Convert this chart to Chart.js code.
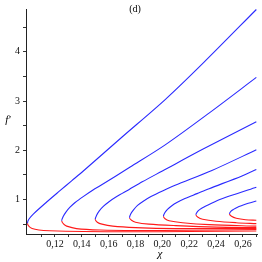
<!DOCTYPE html>
<html>
<head>
<meta charset="utf-8">
<script src="https://cdn.jsdelivr.net/npm/chart.js@4"></script>
<style>
  html, body { margin: 0; padding: 0; background: #fff; }
  #wrap { width: 262px; height: 262px; }
</style>
</head>
<body>
<div id="wrap"><canvas id="chart" width="262" height="262"></canvas></div>
<script>
// upper branches (blue), nose first
const blue1 = [
    {x: 0.0995, y: 0.52}, {x: 0.1005, y: 0.60}, {x: 0.104, y: 0.71}, {x: 0.1138, y: 0.95},
    {x: 0.1237, y: 1.18}, {x: 0.1324, y: 1.38}, {x: 0.1411, y: 1.58}, {x: 0.17, y: 2.27},
    {x: 0.2021, y: 3.03}, {x: 0.2307, y: 3.78}, {x: 0.27, y: 4.86},
];
const blue2 = [
    {x: 0.125, y: 0.57}, {x: 0.126, y: 0.65}, {x: 0.128, y: 0.74}, {x: 0.131, y: 0.84},
    {x: 0.135, y: 0.94}, {x: 0.141, y: 1.06}, {x: 0.1486, y: 1.20}, {x: 0.1536, y: 1.28},
    {x: 0.176, y: 1.66}, {x: 0.2021, y: 2.11}, {x: 0.235, y: 2.76}, {x: 0.27, y: 3.48},
];
const blue3 = [
    {x: 0.15, y: 0.60}, {x: 0.151, y: 0.68}, {x: 0.153, y: 0.77}, {x: 0.156, y: 0.86},
    {x: 0.16, y: 0.95}, {x: 0.166, y: 1.06}, {x: 0.175, y: 1.20}, {x: 0.185, y: 1.36},
    {x: 0.20, y: 1.58}, {x: 0.23, y: 2.02}, {x: 0.27, y: 2.58},
];
const blue4 = [
    {x: 0.1755, y: 0.63}, {x: 0.1765, y: 0.71}, {x: 0.1785, y: 0.79}, {x: 0.1815, y: 0.88},
    {x: 0.1855, y: 0.96}, {x: 0.1915, y: 1.06}, {x: 0.2005, y: 1.18}, {x: 0.2095, y: 1.29},
    {x: 0.2369, y: 1.59}, {x: 0.27, y: 2.01},
];
const blue5 = [
    {x: 0.2008, y: 0.66}, {x: 0.2018, y: 0.73}, {x: 0.2038, y: 0.80}, {x: 0.2068, y: 0.87},
    {x: 0.2108, y: 0.94}, {x: 0.2168, y: 1.02}, {x: 0.2258, y: 1.12}, {x: 0.2348, y: 1.22},
    {x: 0.2593, y: 1.48}, {x: 0.27, y: 1.61},
];
const blue6 = [
    {x: 0.225, y: 0.69}, {x: 0.226, y: 0.75}, {x: 0.228, y: 0.80}, {x: 0.231, y: 0.85},
    {x: 0.2344, y: 0.895}, {x: 0.241, y: 0.98}, {x: 0.25, y: 1.07}, {x: 0.27, y: 1.25},
];
const blue7 = [
    {x: 0.25, y: 0.71}, {x: 0.251, y: 0.76}, {x: 0.253, y: 0.80}, {x: 0.256, y: 0.845},
    {x: 0.2593, y: 0.88}, {x: 0.264, y: 0.925}, {x: 0.27, y: 0.97},
];

// lower branches (red), nose first
const red1 = [
    {x: 0.0995, y: 0.52}, {x: 0.1005, y: 0.46}, {x: 0.103, y: 0.41}, {x: 0.108, y: 0.38},
    {x: 0.116, y: 0.365}, {x: 0.141, y: 0.35}, {x: 0.176, y: 0.345}, {x: 0.22, y: 0.35},
    {x: 0.27, y: 0.36},
];
const red2 = [
    {x: 0.125, y: 0.57}, {x: 0.1265, y: 0.50}, {x: 0.1287, y: 0.46}, {x: 0.136, y: 0.41},
    {x: 0.1536, y: 0.38}, {x: 0.18, y: 0.37}, {x: 0.22, y: 0.375}, {x: 0.27, y: 0.39},
];
const red3 = [
    {x: 0.15, y: 0.60}, {x: 0.1515, y: 0.54}, {x: 0.155, y: 0.50}, {x: 0.163, y: 0.46},
    {x: 0.18, y: 0.43}, {x: 0.21, y: 0.41}, {x: 0.27, y: 0.41},
];
const red4 = [
    {x: 0.1755, y: 0.63}, {x: 0.177, y: 0.58}, {x: 0.18, y: 0.54}, {x: 0.19, y: 0.50},
    {x: 0.21, y: 0.47}, {x: 0.24, y: 0.44}, {x: 0.27, y: 0.43},
];
const red5 = [
    {x: 0.2008, y: 0.66}, {x: 0.202, y: 0.61}, {x: 0.205, y: 0.57}, {x: 0.215, y: 0.53},
    {x: 0.235, y: 0.49}, {x: 0.27, y: 0.46},
];
const red6 = [
    {x: 0.225, y: 0.69}, {x: 0.2265, y: 0.64}, {x: 0.23, y: 0.60}, {x: 0.24, y: 0.56},
    {x: 0.255, y: 0.53}, {x: 0.27, y: 0.51},
];
const red7 = [
    {x: 0.25, y: 0.71}, {x: 0.2515, y: 0.66}, {x: 0.255, y: 0.62}, {x: 0.262, y: 0.59},
    {x: 0.27, y: 0.58},
];

const xTickValues = [0.11, 0.12, 0.13, 0.14, 0.15, 0.16, 0.17, 0.18, 0.19, 0.20, 0.21, 0.22, 0.23, 0.24, 0.25, 0.26, 0.27];
const xTickLabels = ['', '0,12', '', '0,14', '', '0,16', '', '0,18', '', '0,20', '', '0,22', '', '0,24', '', '0,26', ''];
const yTickValues = [0.5, 1, 1.5, 2, 2.5, 3, 3.5, 4, 4.5];
const yTickLabels = ['', '1', '', '2', '', '3', '', '4', ''];

const blues = [blue1, blue2, blue3, blue4, blue5, blue6, blue7];
const reds = [red1, red2, red3, red4, red5, red6, red7];

const RED = '#ff1a1a';
const BLUE = '#2a2aff';

// one line per curve: red branch walked back to the nose, then the blue branch
const datasets = blues.map((blue, k) => {
    const red = reds[k];
    const nose = red.length - 1;
    return {
        data: red.slice().reverse().concat(blue.slice(1)),
        showLine: true,
        pointRadius: 0,
        borderWidth: 1.1,
        borderColor: BLUE,
        tension: 0.3,
        fill: false,
        segment: {
            borderColor: c => c.p0DataIndex < nose ? RED : BLUE,
        },
    };
});

const textPlugin = {
    id: 'texts',
    afterDraw(chart) {
        const ctx = chart.ctx;
        ctx.save();
        ctx.fillStyle = '#000';
        ctx.textAlign = 'center';
        ctx.textBaseline = 'middle';
        ctx.font = '10px "Liberation Serif"';
        ctx.fillText('(d)', 135, 9);
        ctx.font = 'italic 11px "Liberation Serif"';
        ctx.fillText('χ', 160, 254);
        ctx.fillText('f\'', 8, 120);
        ctx.restore();
    }
};

new Chart('chart', {
    type: 'scatter',
    data: {datasets: datasets},
    options: {
        responsive: false,
        animation: false,
        layout: {padding: {top: 6, right: 5, left: 0, bottom: 0}},
        plugins: {legend: {display: false}, tooltip: {enabled: false}},
        scales: {
            x: {
                type: 'linear',
                min: 0.0984,
                max: 0.2705,
                afterBuildTicks: s => { s.ticks = xTickValues.map(v => ({value: v})); },
                afterFit: s => { s.height = 28; },
                grid: {drawOnChartArea: false, drawTicks: true, tickLength: 3, color: '#333'},
                border: {display: true, color: '#222', width: 1},
                ticks: {
                    autoSkip: false, maxRotation: 0, padding: 1, color: '#111',
                    font: {family: 'Liberation Serif', size: 10},
                    callback: (v, i) => xTickLabels[i],
                },
            },
            y: {
                type: 'linear',
                min: 0.3,
                max: 4.87,
                afterBuildTicks: s => { s.ticks = yTickValues.map(v => ({value: v})); },
                afterFit: s => { s.width = 26; },
                grid: {drawOnChartArea: false, drawTicks: true, tickLength: 3, color: '#333'},
                border: {display: true, color: '#222', width: 1},
                ticks: {
                    autoSkip: false, padding: 3, color: '#111',
                    font: {family: 'Liberation Serif', size: 10},
                    callback: (v, i) => yTickLabels[i],
                },
            },
        },
    },
    plugins: [textPlugin],
});
</script>
</body>
</html>
